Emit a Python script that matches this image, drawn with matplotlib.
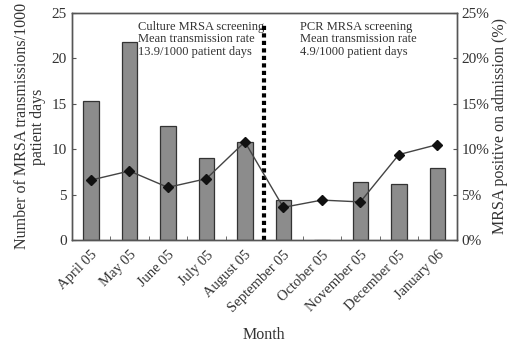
import matplotlib
matplotlib.use("Agg")
import matplotlib.pyplot as plt
from matplotlib.ticker import FixedLocator, PercentFormatter

months = ["April 05", "May 05", "June 05", "July 05", "August 05",
          "September 05", "October 05", "November 05", "December 05", "January 06"]
transmissions = [15.3, 21.8, 12.6, 9.0, 10.8, 4.4, 0.0, 6.4, 6.2, 7.9]
positive_pct = [6.6, 7.6, 5.8, 6.75, 10.8, 3.6, 4.4, 4.2, 9.4, 10.5]
left_ticks = [0, 5, 10, 15, 20, 25]
right_ticks = [0, 5, 10, 15, 20, 25]
culture_text = "Culture MRSA screening\nMean transmission rate\n13.9/1000 patient days"
pcr_text = "PCR MRSA screening\nMean transmission rate\n4.9/1000 patient days"

plt.rcParams['font.family'] = ['Liberation Serif', 'DejaVu Serif']

fig = plt.figure(figsize=(5.23, 3.44), dpi=100)
ax = fig.add_axes([0.137, 0.302, 0.736, 0.661])
x = list(range(len(months)))
ax.bar(x, transmissions, width=0.4, color='#8c8c8c', edgecolor='#333333', linewidth=0.9, zorder=2)
ax.set_xlim(-0.5, len(months) - 0.5)
ax.set_ylim(0, 25)
ax.set_yticks(left_ticks)
ax.set_xticks(x)
ax.set_xticklabels(months, rotation=45, ha='right', rotation_mode='anchor', fontsize=10.5, color='#333333')
ax.xaxis.set_minor_locator(FixedLocator([i + 0.5 for i in range(len(months) - 1)]))
ax.tick_params(axis='x', which='major', length=0, pad=6)
ax.tick_params(axis='x', which='minor', length=3, direction='in', color='#555555')
ax.tick_params(axis='y', direction='in', length=3, labelsize=11, color='#555555', labelcolor='#333333')
for s in ax.spines.values():
    s.set_color('#555555')
    s.set_linewidth(1.0)
ax.set_ylabel("Number of MRSA transmissions/1000\npatient days", fontsize=11.5, color='#333333', labelpad=4, linespacing=1.0)
ax.set_xlabel("Month", fontsize=11.5, color='#333333', labelpad=9)

# separator
ax.plot([4.5, 4.5], [0, 23.6], color='black', linewidth=3, linestyle=(0, (1, 0.8)), zorder=4)

ax.text(0.172, 0.965, culture_text, transform=ax.transAxes, fontsize=9, va='top', ha='left',
        linespacing=1.05, color='#333333')
ax.text(0.593, 0.965, pcr_text, transform=ax.transAxes, fontsize=9, va='top', ha='left',
        linespacing=1.05, color='#333333')

ax2 = ax.twinx()
ax2.plot(x, positive_pct, color='#444444', linewidth=1.0, marker='D', markersize=5,
         markerfacecolor='#111111', markeredgecolor='#111111', zorder=3)
ax2.set_ylim(0, 25)
ax2.set_yticks(right_ticks)
ax2.yaxis.set_major_formatter(PercentFormatter(decimals=0))
ax2.tick_params(axis='y', direction='in', length=3, labelsize=11, color='#555555', labelcolor='#333333')
for s in ax2.spines.values():
    s.set_color('#555555')
    s.set_linewidth(1.0)
ax2.set_ylabel("MRSA positive on admission (%)", fontsize=11.5, color='#333333', labelpad=2)

fig.savefig("out.png", dpi=100)
